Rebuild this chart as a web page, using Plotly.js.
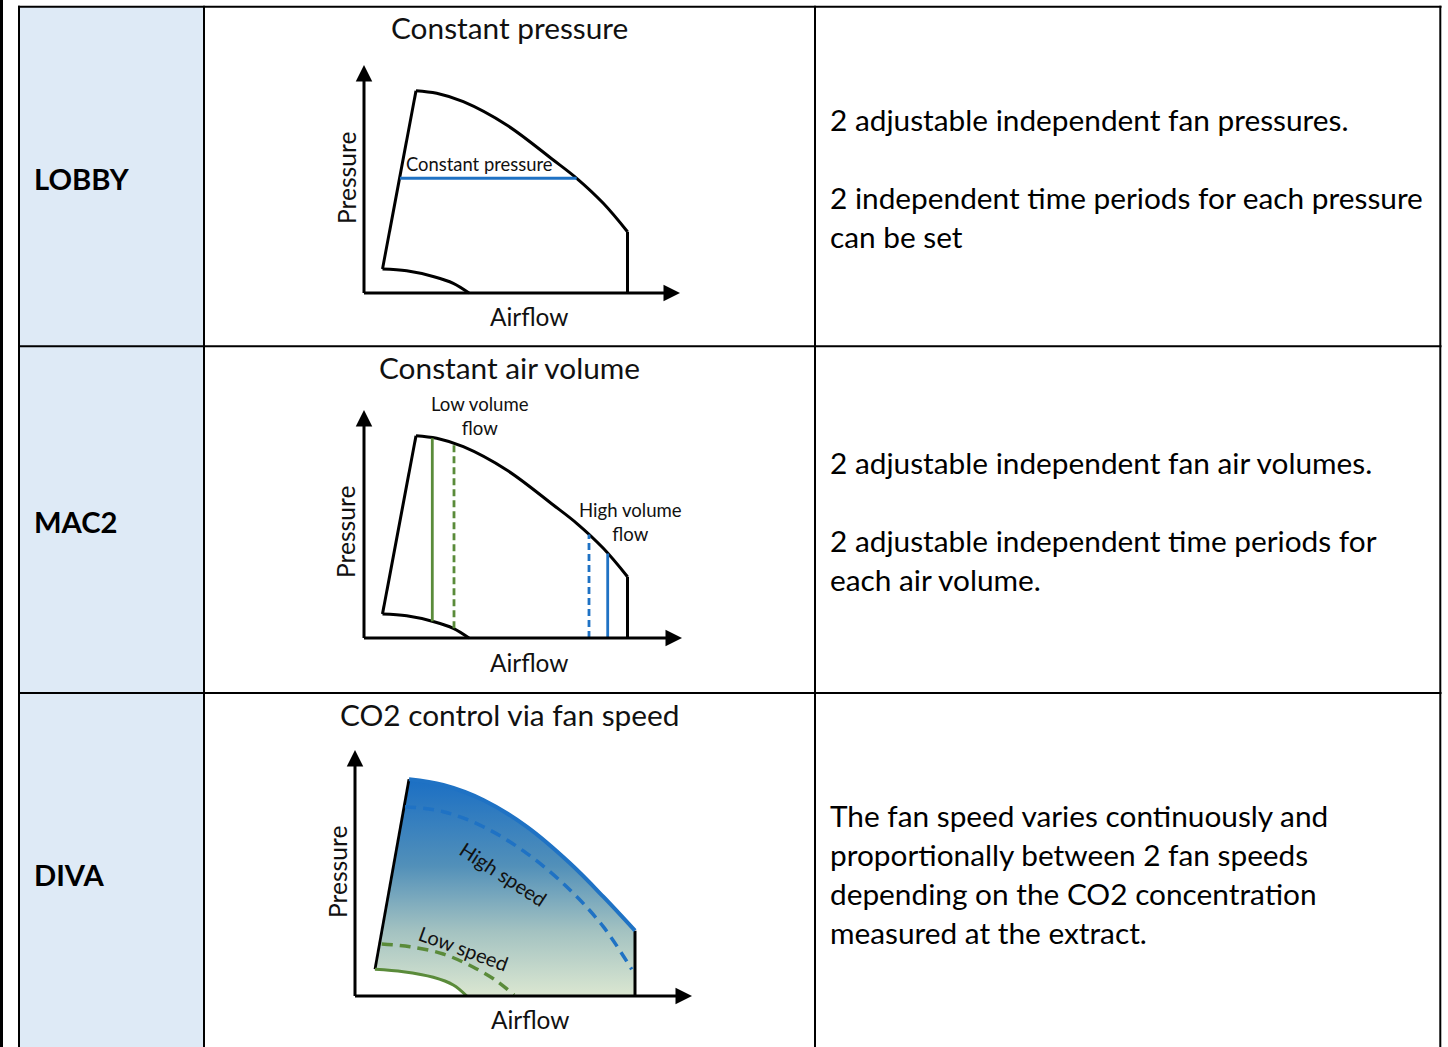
<!DOCTYPE html>
<html><head><meta charset="utf-8">
<script src="https://cdn.plot.ly/plotly-3.0.1.min.js"></script>
<style>html,body{margin:0;padding:0;background:#fff;overflow:hidden}#chart{width:1448px;height:1047px;}</style>
</head><body><div id="chart"></div>
<script>
// ---------------- data (arbitrary units) ----------------
const rowLabels = ["LOBBY", "MAC2", "DIVA"];
const diagramTitles = ["Constant pressure", "Constant air volume", "CO2 control via fan speed"];
const descriptions = [
  ["2 adjustable independent fan pressures.", "", "2 independent time periods for each pressure", "can be set"],
  ["2 adjustable independent fan air volumes.", "", "2 adjustable independent time periods for", "each air volume."],
  ["The fan speed varies continuously and", "proportionally between 2 fan speeds", "depending on the CO2 concentration", "measured at the extract."]
];
const xAxisLabel = "Airflow";
const yAxisLabel = "Pressure";

// fan working envelope (LOBBY / MAC2): airflow vs pressure
const envLeftX = [18.5, 52];
const envLeftY = [24, 202.3];
const envTopX = [52, 72.7, 99.3, 142.7, 189.3, 212.7, 239.3, 263.5];
const envTopY = [202.3, 199.7, 191.3, 168, 133, 114.7, 89.7, 61.3];
const envRightX = [263.5, 263.5];
const envRightY = [61.3, 0];
const envBottomX = [18.5, 42.7, 70, 89.3, 105];
const envBottomY = [24, 22.2, 16.3, 9.7, 0];

// LOBBY: constant pressure set point
const constPressureX = [36, 212.7];
const constPressureY = [114.7, 114.7];

// MAC2: constant volume set points
const lowVolumeX = [68.3, 90];
const lowVolumeBottom = [16.7, 9.7];
const lowVolumeTop = [199.8, 194.7];
const highVolumeX = [225, 243.7];
const highVolumeBottom = [0, 0];
const highVolumeTop = [103.5, 84.5];

// DIVA: fan speed range
const divaLeftX = [20, 54];
const divaLeftY = [26.7, 216.7];
const divaTopX = [54, 88.3, 128.3, 171.7, 215, 248.3, 280];
const divaTopY = [216.7, 211, 196, 169.3, 132.7, 99.3, 65.3];
const divaRightX = [280, 280];
const divaRightY = [65.3, 0];
const highSpeedX = [50, 88.3, 128.3, 171.7, 215, 248.3, 276.7];
const highSpeedY = [189.3, 184.3, 169.3, 142.7, 106, 69.3, 26.7];
const lowSpeedX = [26.7, 55, 88.3, 118, 141.7, 159];
const lowSpeedY = [52, 49.3, 42, 29, 15, 1];
const minSpeedX = [20, 48.3, 78.3, 98.3, 111.7];
const minSpeedY = [26.7, 24.3, 18.7, 11, 0];

// axis extents of the three sketches
const axisTipX = [316, 318, 337];
const axisTipY = [228, 228, 246];

// ---------------- layout geometry ----------------
const W = 1448, H = 1047;
const FONT = 'Lato, "Open Sans", sans-serif';
const origins = [[364, 293], [364, 638], [355, 996]];
const XR = [-40, 350], YR = [-45, 265];
const px = v => v / W, py = v => 1 - v / H;

const GREEN = '#5a8b3a', BLUE = '#1f72c4', BLACK = '#000';

const layout = {
  width: W, height: H, margin: {l: 0, r: 0, t: 0, b: 0},
  paper_bgcolor: '#fff', plot_bgcolor: 'rgba(0,0,0,0)',
  showlegend: false, shapes: [], annotations: []
};
const refs = [['x', 'y'], ['x2', 'y2'], ['x3', 'y3']];
origins.forEach((o, i) => {
  const xn = i ? 'xaxis' + (i + 1) : 'xaxis', yn = i ? 'yaxis' + (i + 1) : 'yaxis';
  layout[xn] = {domain: [(o[0] + XR[0]) / W, (o[0] + XR[1]) / W], range: XR, autorange: false,
    visible: false, fixedrange: true, anchor: refs[i][1]};
  layout[yn] = {domain: [1 - (o[1] - YR[0]) / H, 1 - (o[1] - YR[1]) / H], range: YR, autorange: false,
    visible: false, fixedrange: true, anchor: refs[i][0]};
});

// ---------------- table frame ----------------
const S = layout.shapes;
S.push({type: 'rect', xref: 'paper', yref: 'paper', x0: px(20), x1: px(203), y0: py(1047), y1: py(7),
  fillcolor: '#deeaf6', line: {width: 0}, layer: 'below'});
function hline(y, x0, x1, w) { S.push({type: 'line', xref: 'paper', yref: 'paper', x0: px(x0), x1: px(x1), y0: py(y), y1: py(y), line: {color: BLACK, width: w || 2}}); }
function vline(x, y0, y1, w) { S.push({type: 'line', xref: 'paper', yref: 'paper', x0: px(x), x1: px(x), y0: py(y0), y1: py(y1), line: {color: BLACK, width: w || 2}}); }
vline(1.5, 0, 1047, 3);
hline(6.7, 18, 1441.5);
[19, 204, 815, 1440.3].forEach(x => vline(x, 5.7, 1047));
[346.3, 693].forEach(y => hline(y, 18, 1441.5));

// ---------------- texts ----------------
const A = layout.annotations;
const rowCenters = [178, 521, 874];
rowLabels.forEach((t, i) => A.push({text: '<b>' + t + '</b>', xref: 'paper', yref: 'paper', x: px(31.5), y: py(rowCenters[i]),
  xanchor: 'left', yanchor: 'middle', showarrow: false, font: {family: FONT, size: 29.2, color: BLACK}}));
const titleY = [28, 367, 714];
diagramTitles.forEach((t, i) => A.push({text: t, xref: 'paper', yref: 'paper', x: px(509.5), y: py(titleY[i]),
  xanchor: 'center', yanchor: 'middle', showarrow: false, font: {family: FONT, size: 29.8, color: '#111'}}));
const descY = [[119.5, 159, 197.5, 236.5], [462.5, 502, 540.5, 579.5], [815.5, 854.5, 893.5, 932.5]];
descriptions.forEach((lines, i) => lines.forEach((t, j) => { if (t) A.push({text: t, xref: 'paper', yref: 'paper',
  x: px(827.5), y: py(descY[i][j]), xanchor: 'left', yanchor: 'middle', showarrow: false,
  font: {family: FONT, size: 29.8, color: BLACK}}); }));

// axis arrows + labels for each sketch
const yLabelPos = [[-17, 115], [-19, 106], [-18, 124]];
const xLabelPos = [[165, -23], [165, -24], [175, -23]];
refs.forEach((r, i) => {
  const base = {xref: r[0], yref: r[1], axref: r[0], ayref: r[1], text: '', showarrow: true,
    arrowhead: 2, arrowsize: 1.1, arrowwidth: 3, arrowcolor: BLACK, standoff: 0, startstandoff: 0};
  A.push(Object.assign({}, base, {x: 0, y: axisTipY[i], ax: 0, ay: -1.5}));
  A.push(Object.assign({}, base, {x: axisTipX[i], y: 0, ax: -1.5, ay: 0}));
  A.push({text: yAxisLabel, xref: r[0], yref: r[1], x: yLabelPos[i][0], y: yLabelPos[i][1], textangle: -90,
    showarrow: false, xanchor: 'center', yanchor: 'middle', font: {family: FONT, size: 24.6, color: '#111'}});
  A.push({text: xAxisLabel, xref: r[0], yref: r[1], x: xLabelPos[i][0], y: xLabelPos[i][1],
    showarrow: false, xanchor: 'center', yanchor: 'middle', font: {family: FONT, size: 24.4, color: '#111'}});
});
A.push({text: 'Constant pressure', xref: 'x', yref: 'y', x: 115, y: 129, showarrow: false,
  font: {family: FONT, size: 18.4, color: '#111'}});
A.push({text: 'Low volume<br>flow', xref: 'x2', yref: 'y2', x: 116, y: 222, showarrow: false,
  font: {family: FONT, size: 18.6, color: '#111'}});
A.push({text: 'High volume<br>flow', xref: 'x2', yref: 'y2', x: 266, y: 116, showarrow: false,
  font: {family: FONT, size: 18.6, color: '#111'}});
A.push({text: 'High speed', xref: 'x3', yref: 'y3', x: 148.5, y: 122, textangle: 33, showarrow: false,
  font: {family: FONT, size: 20, color: '#111'}});
A.push({text: 'Low speed', xref: 'x3', yref: 'y3', x: 108, y: 48, textangle: 20, showarrow: false,
  font: {family: FONT, size: 20, color: '#111'}});

// ---------------- traces ----------------
const traces = [];
function line(x, y, r, color, width, shape, dash) {
  traces.push({type: 'scatter', mode: 'lines', x: x, y: y, xaxis: r[0], yaxis: r[1], hoverinfo: 'skip',
    line: {color: color, width: width, shape: shape || 'linear', dash: dash || 'solid'}});
}
// DIVA gradient fill (built from the boundary arrays)
const fillX = divaLeftX.concat(divaTopX.slice(1), divaRightX.slice(1), minSpeedX.slice().reverse());
const fillY = divaLeftY.concat(divaTopY.slice(1), divaRightY.slice(1), minSpeedY.slice().reverse());
traces.push({type: 'scatter', mode: 'lines', x: fillX, y: fillY, xaxis: 'x3', yaxis: 'y3', fill: 'toself',
  line: {width: 0, color: 'rgba(0,0,0,0)'}, hoverinfo: 'skip',
  fillgradient: {type: 'vertical', colorscale: [[0, '#dbe7d1'], [0.3, '#a3c2c1'], [0.6, '#5290b9'], [1, '#1b6fc4']]}});

// LOBBY & MAC2 envelopes
[refs[0], refs[1]].forEach(r => {
  line(envLeftX, envLeftY, r, BLACK, 3);
  line(envTopX, envTopY, r, BLACK, 3, 'spline');
  line(envRightX, envRightY, r, BLACK, 3);
  line(envBottomX, envBottomY, r, BLACK, 3, 'spline');
});
line(constPressureX, constPressureY, refs[0], BLUE, 3);
lowVolumeX.forEach((x, k) => line([x, x], [lowVolumeBottom[k], lowVolumeTop[k]], refs[1], GREEN, 2.8, 'linear', k ? '7px,4px' : 'solid'));
highVolumeX.forEach((x, k) => line([x, x], [highVolumeBottom[k], highVolumeTop[k]], refs[1], BLUE, 2.8, 'linear', k ? 'solid' : '7px,4px'));

// DIVA lines
line(divaLeftX, divaLeftY, refs[2], BLACK, 2.8);
line(divaRightX, divaRightY, refs[2], BLACK, 3);
line(divaTopX, divaTopY, refs[2], BLUE, 4, 'spline');
line(highSpeedX, highSpeedY, refs[2], BLUE, 3.5, 'spline', '11px,7px');
line(lowSpeedX, lowSpeedY, refs[2], GREEN, 3.5, 'spline', '11px,7px');
line(minSpeedX, minSpeedY, refs[2], GREEN, 3, 'spline');

Plotly.newPlot('chart', traces, layout, {staticPlot: true, displayModeBar: false});
</script></body></html>
